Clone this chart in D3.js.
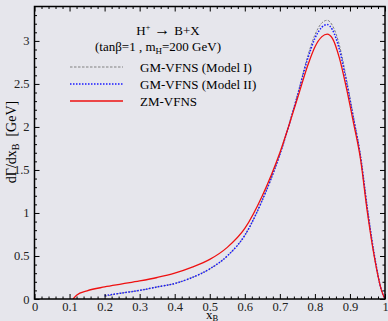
<!DOCTYPE html>
<html>
<head>
<meta charset="utf-8">
<script src="https://cdn.jsdelivr.net/npm/d3@7"></script>
<style>
  body { margin: 0; background: #e6e6ec; }
  svg { display: block; font-family: "Liberation Serif", "DejaVu Serif", serif; }
  svg text { font-family: "Liberation Serif", "DejaVu Serif", serif; }
</style>
</head>
<body>
<div id="chart"></div>
<script>
// Data
const xZM = [0.11, 0.12, 0.15, 0.2, 0.25, 0.3, 0.35, 0.4, 0.45, 0.5, 0.55, 0.6, 0.65, 0.7, 0.75, 0.78, 0.8, 0.82, 0.835, 0.85, 0.87, 0.89, 0.91, 0.93, 0.95, 0.97, 0.99, 1.0];
const yZM = [0, 0.045, 0.095, 0.14, 0.175, 0.21, 0.25, 0.30, 0.37, 0.46, 0.60, 0.82, 1.20, 1.70, 2.33, 2.72, 2.93, 3.05, 3.08, 3.03, 2.80, 2.45, 2.05, 1.63, 1.00, 0.48, 0.10, 0];

const xGM = [0.2, 0.25, 0.3, 0.35, 0.4, 0.45, 0.5, 0.55, 0.6, 0.65, 0.7, 0.75, 0.78, 0.8, 0.82, 0.835, 0.85, 0.87, 0.89, 0.91, 0.93, 0.95, 0.97, 0.99, 1.0];
const yModel2 = [0.04, 0.07, 0.10, 0.14, 0.18, 0.25, 0.35, 0.50, 0.74, 1.15, 1.68, 2.36, 2.80, 3.03, 3.16, 3.19, 3.13, 2.90, 2.52, 2.10, 1.66, 1.04, 0.50, 0.10, 0];
const yModel1 = [0.03, 0.07, 0.10, 0.14, 0.18, 0.25, 0.35, 0.50, 0.74, 1.15, 1.68, 2.37, 2.83, 3.07, 3.21, 3.24, 3.18, 2.95, 2.56, 2.12, 1.67, 1.05, 0.50, 0.10, 0];

const xTicks = [0, 0.1, 0.2, 0.3, 0.4, 0.5, 0.6, 0.7, 0.8, 0.9, 1];
const yTicks = [0, 0.5, 1, 1.5, 2, 2.5, 3];

const legendLabels = ["GM-VFNS (Model I)", "GM-VFNS (Model II)", "ZM-VFNS"];

const width = 388, height = 321;
const m = { left: 34.5, right: 385, top: 6.5, bottom: 299 };

const svg = d3.select("#chart").append("svg")
    .attr("width", width)
    .attr("height", height);

const x = d3.scaleLinear().domain([0, 1]).range([m.left, m.right]);
const y = d3.scaleLinear().domain([0, 3.4]).range([m.bottom, m.top]);

const line = d3.line()
    .x(d => x(d[0]))
    .y(d => y(d[1]))
    .curve(d3.curveMonotoneX);

const series = [
    { xs: xGM, ys: yModel1, color: "#808080", width: 1, dash: "2.5,1.5" },
    { xs: xGM, ys: yModel2, color: "#1a1aff", width: 1.5, dash: "1.5,1.5" },
    { xs: xZM, ys: yZM, color: "#ee1111", width: 1.3, dash: null }
];

svg.append("defs").append("clipPath").attr("id", "clip")
    .append("rect").attr("x", m.left).attr("y", m.top)
    .attr("width", m.right - m.left).attr("height", m.bottom - m.top);

series.forEach(s => {
    svg.append("path")
        .datum(s.xs.map((v, i) => [v, s.ys[i]]))
        .attr("clip-path", "url(#clip)")
        .attr("d", line)
        .attr("fill", "none")
        .attr("stroke", s.color)
        .attr("stroke-width", s.width)
        .attr("stroke-dasharray", s.dash);
});

// axes: ticks pointing inward on all four sides
const xMinor = d3.range(0, 1.0001, 0.02).filter(v => Math.abs(v * 10 - Math.round(v * 10)) > 1e-6);
const yMinor = d3.range(0, 3.4, 0.1).filter(v => Math.abs(v * 2 - Math.round(v * 2)) > 1e-6);

svg.append("g").attr("transform", `translate(0,${m.bottom})`)
    .call(d3.axisBottom(x).tickValues(xTicks).tickSize(-5).tickFormat(d3.format("~g")).tickPadding(3));
svg.append("g").attr("transform", `translate(0,${m.bottom})`)
    .call(d3.axisBottom(x).tickValues(xMinor).tickSize(-2.5).tickFormat(""));
svg.append("g").attr("transform", `translate(0,${m.top})`)
    .call(d3.axisTop(x).tickValues(xTicks).tickSize(-5).tickFormat(""));
svg.append("g").attr("transform", `translate(0,${m.top})`)
    .call(d3.axisTop(x).tickValues(xMinor).tickSize(-2.5).tickFormat(""));

svg.append("g").attr("transform", `translate(${m.left},0)`)
    .call(d3.axisLeft(y).tickValues(yTicks).tickSize(-5).tickFormat(d3.format("~g")).tickPadding(5));
svg.append("g").attr("transform", `translate(${m.left},0)`)
    .call(d3.axisLeft(y).tickValues(yMinor).tickSize(-2.5).tickFormat(""));
svg.append("g").attr("transform", `translate(${m.right},0)`)
    .call(d3.axisRight(y).tickValues(yTicks).tickSize(-5).tickFormat(""));
svg.append("g").attr("transform", `translate(${m.right},0)`)
    .call(d3.axisRight(y).tickValues(yMinor).tickSize(-2.5).tickFormat(""));

svg.selectAll(".domain").remove();
svg.selectAll("g").attr("font-family", null).attr("font-size", null);
svg.selectAll(".tick line").attr("stroke", "#000").attr("stroke-width", 1);
svg.selectAll(".tick text")
    .attr("font-size", 12.5)
    .attr("fill", "#222");

// frame
svg.append("rect")
    .attr("x", m.left).attr("y", m.top)
    .attr("width", m.right - m.left).attr("height", m.bottom - m.top)
    .attr("fill", "none").attr("stroke", "#000").attr("stroke-width", 1.5);

// axis titles
svg.append("text")
    .attr("x", 212).attr("y", 318.5)
    .attr("text-anchor", "middle").attr("font-size", 13)
    .html('x<tspan font-size="8.5" dy="2">B</tspan>');

svg.append("text")
    .attr("transform", "translate(16,142) rotate(-90)")
    .attr("text-anchor", "middle").attr("font-size", 14)
    .attr("xml:space", "preserve")
    .html('dΓ/dx<tspan font-size="10" dy="3">B</tspan><tspan dy="-3">  [GeV]</tspan>');

// annotation
svg.append("text")
    .attr("x", 168).attr("y", 35)
    .attr("text-anchor", "middle").attr("font-size", 13)
    .attr("xml:space", "preserve")
    .html('H<tspan font-size="8" dy="-5">+</tspan><tspan dy="5" font-size="16"> → </tspan>B+X');

svg.append("text")
    .attr("x", 158).attr("y", 51)
    .attr("text-anchor", "middle").attr("font-size", 13)
    .html('(tanβ=1 , m<tspan font-size="9" dy="3">H</tspan><tspan dy="-3">=200 GeV)</tspan>');

// legend
const legend = svg.append("g");
legendLabels.forEach((label, i) => {
    const ly = 67 + i * 17;
    const s = series[i];
    legend.append("line")
        .attr("x1", 70).attr("x2", 123)
        .attr("y1", ly).attr("y2", ly)
        .attr("stroke", s.color)
        .attr("stroke-width", s.width)
        .attr("stroke-dasharray", s.dash);
    legend.append("text")
        .attr("x", 140).attr("y", ly + 4.5)
        .attr("font-size", 13)
        .text(label);
});
</script>
</body>
</html>
